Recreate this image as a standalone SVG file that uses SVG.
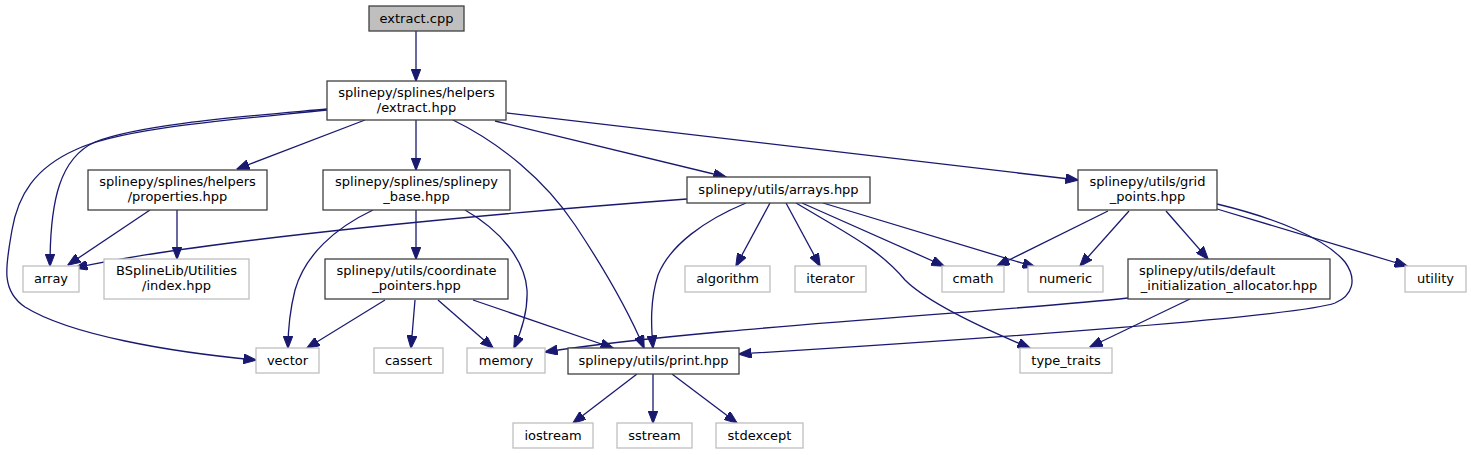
<svg xmlns="http://www.w3.org/2000/svg" width="1471" height="455" viewBox="0 0 1471 455">
<style>
.n rect{fill:#ffffff;stroke:#404040;stroke-width:1.3}
.g rect{fill:#ffffff;stroke:#bfbfbf;stroke-width:1.3}
.r rect{fill:#bfbfbf;stroke:#404040;stroke-width:1.3}
text{font-family:"DejaVu Sans","Liberation Sans",sans-serif;font-size:13px;fill:#000;text-anchor:middle}
#edges path{fill:none;stroke:#191970;stroke-width:1.3;marker-end:url(#ah)}
</style>
<defs>
<marker id="ah" markerUnits="userSpaceOnUse" viewBox="0 0 13 10" markerWidth="13" markerHeight="10" refX="12.5" refY="5" orient="auto">
<path d="M0,0 L13,5 L0,10 z" fill="#191970" stroke="#191970" stroke-width="1"/>
</marker>
</defs>
<rect width="1471" height="455" fill="#ffffff"/>
<g id="edges">
<path d="M416,31 L416,81"/>
<path d="M327,109 C250,116 140,124 95,142 C60,158 50,200 50,266"/>
<path d="M327,110 C230,120 120,128 75,150 C35,168 18,195 12,230 C6,265 0,290 25,307 C70,335 170,352 256,360"/>
<path d="M365,120 L237,169"/>
<path d="M416,120 L416,170"/>
<path d="M453,120 C500,143 545,180 575,225 C605,270 630,315 644,348"/>
<path d="M495,121 L726,177"/>
<path d="M507,113 L1078,180"/>
<path d="M150,210 L68,265"/>
<path d="M177,210 L177,259"/>
<path d="M373,210 C335,228 305,255 295,290 C290,310 288,330 288,348"/>
<path d="M416,210 L416,259"/>
<path d="M465,210 C500,230 525,260 527,290 C528,310 522,330 514,348"/>
<path d="M687,199 C500,213 200,240 75,268"/>
<path d="M746,203 C705,220 670,245 658,275 C650,300 651,325 653,348"/>
<path d="M770,203 L736,266"/>
<path d="M786,203 L820,266"/>
<path d="M796,203 C850,235 880,250 905,280 C925,300 975,325 1030,348"/>
<path d="M802,203 L944,266"/>
<path d="M823,203 L1035,267"/>
<path d="M1108,211 L997,266"/>
<path d="M1129,211 L1080,266"/>
<path d="M1166,211 L1208,259"/>
<path d="M1217,209 L1407,266"/>
<path d="M1217,204 C1275,218 1325,238 1345,262 C1358,280 1352,296 1335,303 C1300,316 1000,338 739,354"/>
<path d="M1128,298 C1000,312 700,328 545,352"/>
<path d="M1190,299 L1090,347"/>
<path d="M385,300 L307,348"/>
<path d="M415,300 L411,348"/>
<path d="M438,300 L493,348"/>
<path d="M473,300 L613,348"/>
<path d="M637,374 L573,423"/>
<path d="M653,374 L653,423"/>
<path d="M672,374 L737,423"/>
</g>
<g id="extract_cpp" class="r"><rect x="369" y="6" width="95" height="25"/><text x="416.5" y="23">extract.cpp</text></g>
<g id="extract_hpp" class="n"><rect x="327" y="81" width="179" height="39"/><text x="416.5" y="96.5">splinepy/splines/helpers</text><text x="416.5" y="111.5">/extract.hpp</text></g>
<g id="properties_hpp" class="n"><rect x="88" y="170" width="179" height="40"/><text x="177.5" y="186">splinepy/splines/helpers</text><text x="177.5" y="201">/properties.hpp</text></g>
<g id="splinepy_base_hpp" class="n"><rect x="323" y="170" width="187" height="40"/><text x="416.5" y="186">splinepy/splines/splinepy</text><text x="416.5" y="201">_base.hpp</text></g>
<g id="arrays_hpp" class="n"><rect x="687" y="177" width="183" height="26"/><text x="778.5" y="194">splinepy/utils/arrays.hpp</text></g>
<g id="grid_points_hpp" class="n"><rect x="1078" y="170" width="139" height="40"/><text x="1147.5" y="186">splinepy/utils/grid</text><text x="1147.5" y="201">_points.hpp</text></g>
<g id="array" class="g"><rect x="23" y="266" width="56" height="26"/><text x="51" y="283">array</text></g>
<g id="bsplinelib_index" class="g"><rect x="104" y="259" width="145" height="40"/><text x="176.5" y="275">BSplineLib/Utilities</text><text x="176.5" y="290">/index.hpp</text></g>
<g id="coordinate_pointers_hpp" class="n"><rect x="325" y="259" width="183" height="40"/><text x="416.5" y="275">splinepy/utils/coordinate</text><text x="416.5" y="290">_pointers.hpp</text></g>
<g id="algorithm" class="g"><rect x="685" y="266" width="85" height="26"/><text x="727.5" y="283">algorithm</text></g>
<g id="iterator" class="g"><rect x="795" y="266" width="71" height="26"/><text x="830.5" y="283">iterator</text></g>
<g id="cmath" class="g"><rect x="942" y="266" width="62" height="26"/><text x="973" y="283">cmath</text></g>
<g id="numeric" class="g"><rect x="1028" y="266" width="75" height="26"/><text x="1065.5" y="283">numeric</text></g>
<g id="default_initialization_allocator_hpp" class="n"><rect x="1128" y="259" width="202" height="40"/><text x="1139" y="275" style="text-anchor:start">splinepy/utils/default</text><text x="1229" y="290">_initialization_allocator.hpp</text></g>
<g id="utility" class="g"><rect x="1405" y="266" width="61" height="26"/><text x="1435.5" y="283">utility</text></g>
<g id="vector" class="g"><rect x="256" y="348" width="63" height="25"/><text x="287.5" y="365">vector</text></g>
<g id="cassert" class="g"><rect x="374" y="348" width="69" height="25"/><text x="408.5" y="365">cassert</text></g>
<g id="memory" class="g"><rect x="467" y="348" width="78" height="25"/><text x="506" y="365">memory</text></g>
<g id="print_hpp" class="n"><rect x="568" y="348" width="171" height="26"/><text x="653.5" y="365">splinepy/utils/print.hpp</text></g>
<g id="type_traits" class="g"><rect x="1020" y="348" width="92" height="25"/><text x="1066" y="365">type_traits</text></g>
<g id="iostream" class="g"><rect x="513" y="423" width="80" height="25"/><text x="553" y="440">iostream</text></g>
<g id="sstream" class="g"><rect x="617" y="423" width="75" height="25"/><text x="654.5" y="440">sstream</text></g>
<g id="stdexcept" class="g"><rect x="716" y="423" width="87" height="25"/><text x="759.5" y="440">stdexcept</text></g>
</svg>
